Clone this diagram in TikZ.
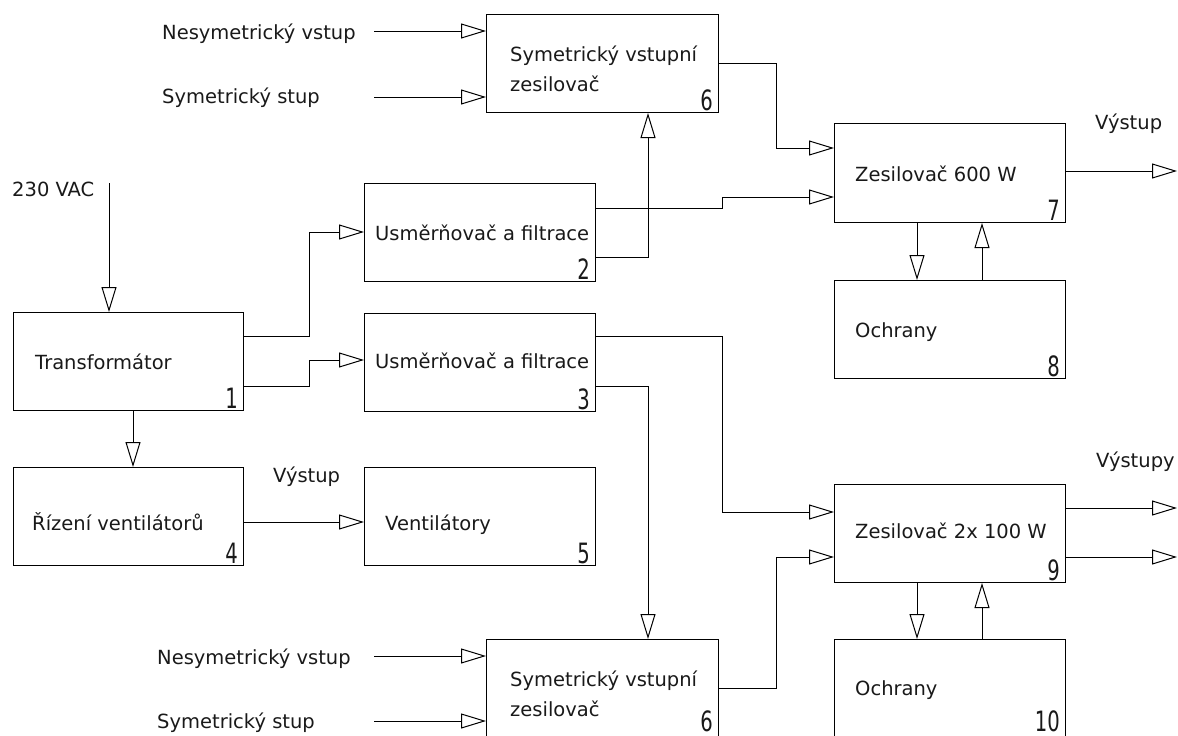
\documentclass[tikz,border=0pt]{standalone}
\usepackage{fontspec}
\setmainfont{DejaVu Sans}
\newfontfamily\numfont{DejaVu Sans}[FakeStretch=0.7]
\usetikzlibrary{arrows.meta}
\begin{document}
\begin{tikzpicture}[x=1pt,y=-1pt,
  every node/.style={inner sep=0pt},
  blk/.style={draw, line width=1pt, anchor=north west, minimum width=231pt, minimum height=98pt},
  lbl/.style={anchor=base west, font=\fontsize{19.5}{23}\selectfont, text=black!90},
  num/.style={anchor=base east, font=\numfont\fontsize{28}{30}\selectfont, text=black!90, xshift=-6pt, yshift=3pt},
  wire/.style={line width=1pt, line join=miter},
  arr/.style={wire, -{Triangle[open, length=25pt, width=15pt, line width=1pt]}}
]
\useasboundingbox (0,0) rectangle (1178,736);
% boxes
\node[blk, minimum width=232pt] (b6t) at (486,14) {};
\node[blk, minimum height=99pt] (b7) at (834,123) {};
\node[blk] (b8) at (834,280) {};
\node[blk] (b2) at (364,183) {};
\node[blk, minimum width=230pt] (b1) at (13,312) {};
\node[blk] (b3) at (364,313) {};
\node[blk, minimum width=230pt] (b4) at (13,467) {};
\node[blk] (b5) at (364,467) {};
\node[blk] (b9) at (834,484) {};
\node[blk] (b10) at (834,639) {};
\node[blk, minimum width=232pt] (b6b) at (486,639) {};
% numbers
\node[num] (n6t) at (b6t.south east) {6};
\node[num] (n7) at (b7.south east) {7};
\node[num] (n8) at (b8.south east) {8};
\node[num] (n2) at (b2.south east) {2};
\node[num] (n1) at (b1.south east) {1};
\node[num] (n3) at (b3.south east) {3};
\node[num] (n4) at (b4.south east) {4};
\node[num] (n5) at (b5.south east) {5};
\node[num] (n9) at (b9.south east) {9};
\node[num, yshift=4pt] (n10) at (b10.south east) {10};
\node[num, yshift=4pt] (n6b) at (b6b.south east) {6};
% texts
\node[lbl] (t1) at (162,39) {Nesymetrický vstup};
\node[lbl] (t2) at (162,103) {Symetrický stup};
\node[lbl] (t3) at (510,61) {Symetrický vstupní};
\node[lbl] (t4) at (510,91) {zesilovač};
\node[lbl] (t5) at (1095,129) {Výstup};
\node[lbl] (t6) at (855,181) {Zesilovač 600 W};
\node[lbl] (t7) at (855,337) {Ochrany};
\node[lbl] (t8) at (12,196) {230 VAC};
\node[lbl] (t9) at (375,240) {Usměrňovač a filtrace};
\node[lbl] (t10) at (35,369) {Transformátor};
\node[lbl] (t11) at (375,368) {Usměrňovač a filtrace};
\node[lbl] (t12) at (32,530) {Řízení ventilátorů};
\node[lbl] (t13) at (273,482) {Výstup};
\node[lbl] (t14) at (385,530) {Ventilátory};
\node[lbl] (t15) at (1096,467) {Výstupy};
\node[lbl] (t16) at (855,538) {Zesilovač 2x 100 W};
\node[lbl] (t17) at (855,695) {Ochrany};
\node[lbl] (t18) at (157,664) {Nesymetrický vstup};
\node[lbl] (t19) at (157,728) {Symetrický stup};
\node[lbl] (t20) at (510,686) {Symetrický vstupní};
\node[lbl] (t21) at (510,716) {zesilovač};
% free ends
\coordinate (in1t) at (374,31);
\coordinate (in2t) at (374,97);
\coordinate (in1b) at (374,656);
\coordinate (in2b) at (374,721);
\coordinate (vac) at (109,183);
\coordinate (out7) at (1177,171);
\coordinate (out9a) at (1177,508);
\coordinate (out9b) at (1177,557);
% connectors
\draw[arr] (in1t) -- (in1t -| b6t.west);
\draw[arr] (in2t) -- (in2t -| b6t.west);
\draw[arr] (in1b) -- (in1b -| b6b.west);
\draw[arr] (in2b) -- (in2b -| b6b.west);
\draw[arr] (b6t.east |- 0,63) -- (776,63) -- (776,148) -- (b7.west |- 0,148);
\draw[arr] (b2.east |- 0,208) -- (722,208) -- (722,197) -- (b7.west |- 0,197);
\draw[arr] (b2.east |- 0,257) -- (648,257) -- (b6t.south -| 648,0);
\draw[arr] (b7.east |- out7) -- (out7);
\draw[arr] (b7.south -| 917,0) -- (b8.north -| 917,0);
\draw[arr] (b8.north -| 982,0) -- (b7.south -| 982,0);
\draw[arr] (vac) -- (b1.north -| vac);
\draw[arr] (b1.east |- 0,336) -- (309,336) -- (309,232) -- (b2.west |- 0,232);
\draw[arr] (b1.east |- 0,386) -- (309,386) -- (309,360) -- (b3.west |- 0,360);
\draw[arr] (b1.south -| 133,0) -- (b4.north -| 133,0);
\draw[arr] (b4.east |- 0,522) -- (b5.west |- 0,522);
\draw[arr] (b3.east |- 0,336) -- (722,336) -- (722,512) -- (b9.west |- 0,512);
\draw[arr] (b3.east |- 0,386) -- (648,386) -- (b6b.north -| 648,0);
\draw[arr] (b6b.east |- 0,688) -- (776,688) -- (776,557) -- (b9.west |- 0,557);
\draw[arr] (b9.east |- out9a) -- (out9a);
\draw[arr] (b9.east |- out9b) -- (out9b);
\draw[arr] (b9.south -| 917,0) -- (b10.north -| 917,0);
\draw[arr] (b10.north -| 982,0) -- (b9.south -| 982,0);
\end{tikzpicture}
\end{document}
